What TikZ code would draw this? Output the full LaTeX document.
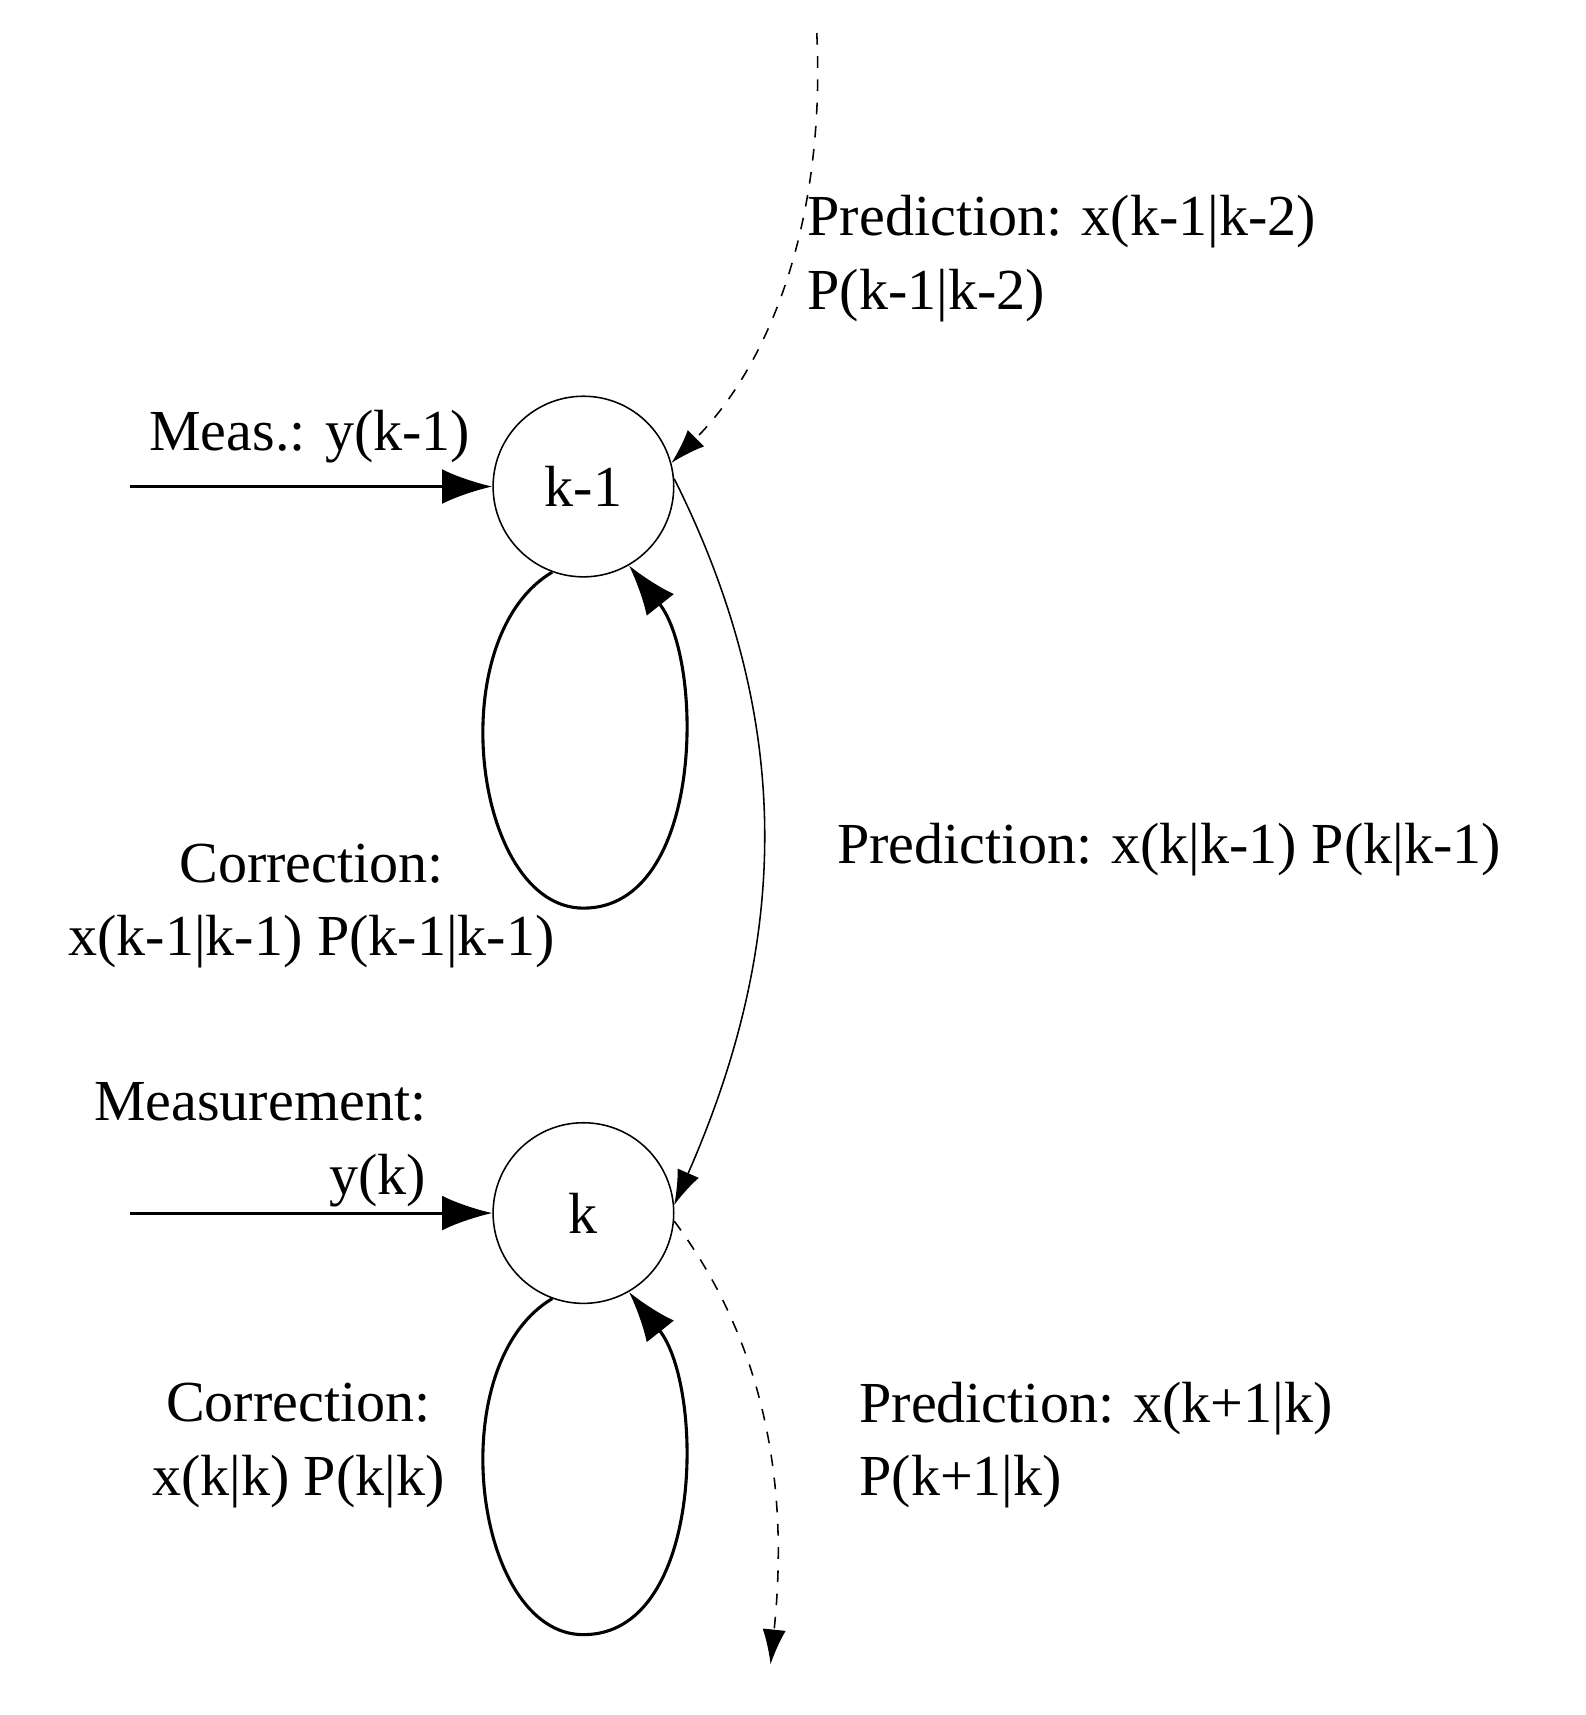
\documentclass[tikz,border=0pt]{standalone}
\usepackage{fontspec}
\setmainfont{Liberation Serif}
\usetikzlibrary{arrows.meta}
\begin{document}
\begin{tikzpicture}[x=0.01cm,y=-0.01cm,
  st/.style={circle,draw,thin,minimum size=1.64cm,inner sep=0pt,font=\fontsize{15}{17}\selectfont},
  lb/.style={font=\fontsize{15}{19}\selectfont,inner sep=0pt},
  tip/.style={-{Latex[length=13pt,width=9pt]}},
  stip/.style={-{Latex[length=9pt,width=6pt]}}]
\useasboundingbox (0,0) rectangle (1440,1558);
\node[st] (a) at (530,442) {k-1};
\node[st] (b) at (530,1102) {k};
\coordinate (m1) at (118,442);
\coordinate (m2) at (118,1102);
\coordinate (top) at (742,30);
\coordinate (bot) at (700,1512);
\draw[tip,thick] (m1) -- (a.west);
\draw[tip,thick] (m2) -- (b.west);
\draw[tip,thick] (a.250) .. controls (400,580) and (430,825) .. (530,825) .. controls (640,825) and (640,600) .. (a.300);
\draw[tip,thick] (b.250) .. controls (400,1240) and (430,1485) .. (530,1485) .. controls (640,1485) and (640,1260) .. (b.300);
\draw[stip,dashed] (top) .. controls (750,200) and (700,330) .. (a.15);
\draw[stip] (a.5) .. controls (720,650) and (720,850) .. (b.5);
\draw[stip,dashed] (b.355) .. controls (680,1200) and (720,1320) .. (bot);
\node[lb,anchor=west] at (135,397) {Meas.: y(k-1)};
\node[lb,anchor=west,align=left] at (733,235) {Prediction: x(k-1|k-2)\\P(k-1|k-2)};
\node[lb,anchor=west] at (760,772) {Prediction: x(k|k-1) P(k|k-1)};
\node[lb,align=center] at (283,823) {Correction:\\x(k-1|k-1) P(k-1|k-1)};
\node[lb,align=right,anchor=east] at (388,1040) {Measurement:\\y(k)};
\node[lb,align=center] at (271,1313) {Correction:\\x(k|k) P(k|k)};
\node[lb,anchor=west,align=left] at (780,1313) {Prediction: x(k+1|k)\\P(k+1|k)};
\end{tikzpicture}
\end{document}
